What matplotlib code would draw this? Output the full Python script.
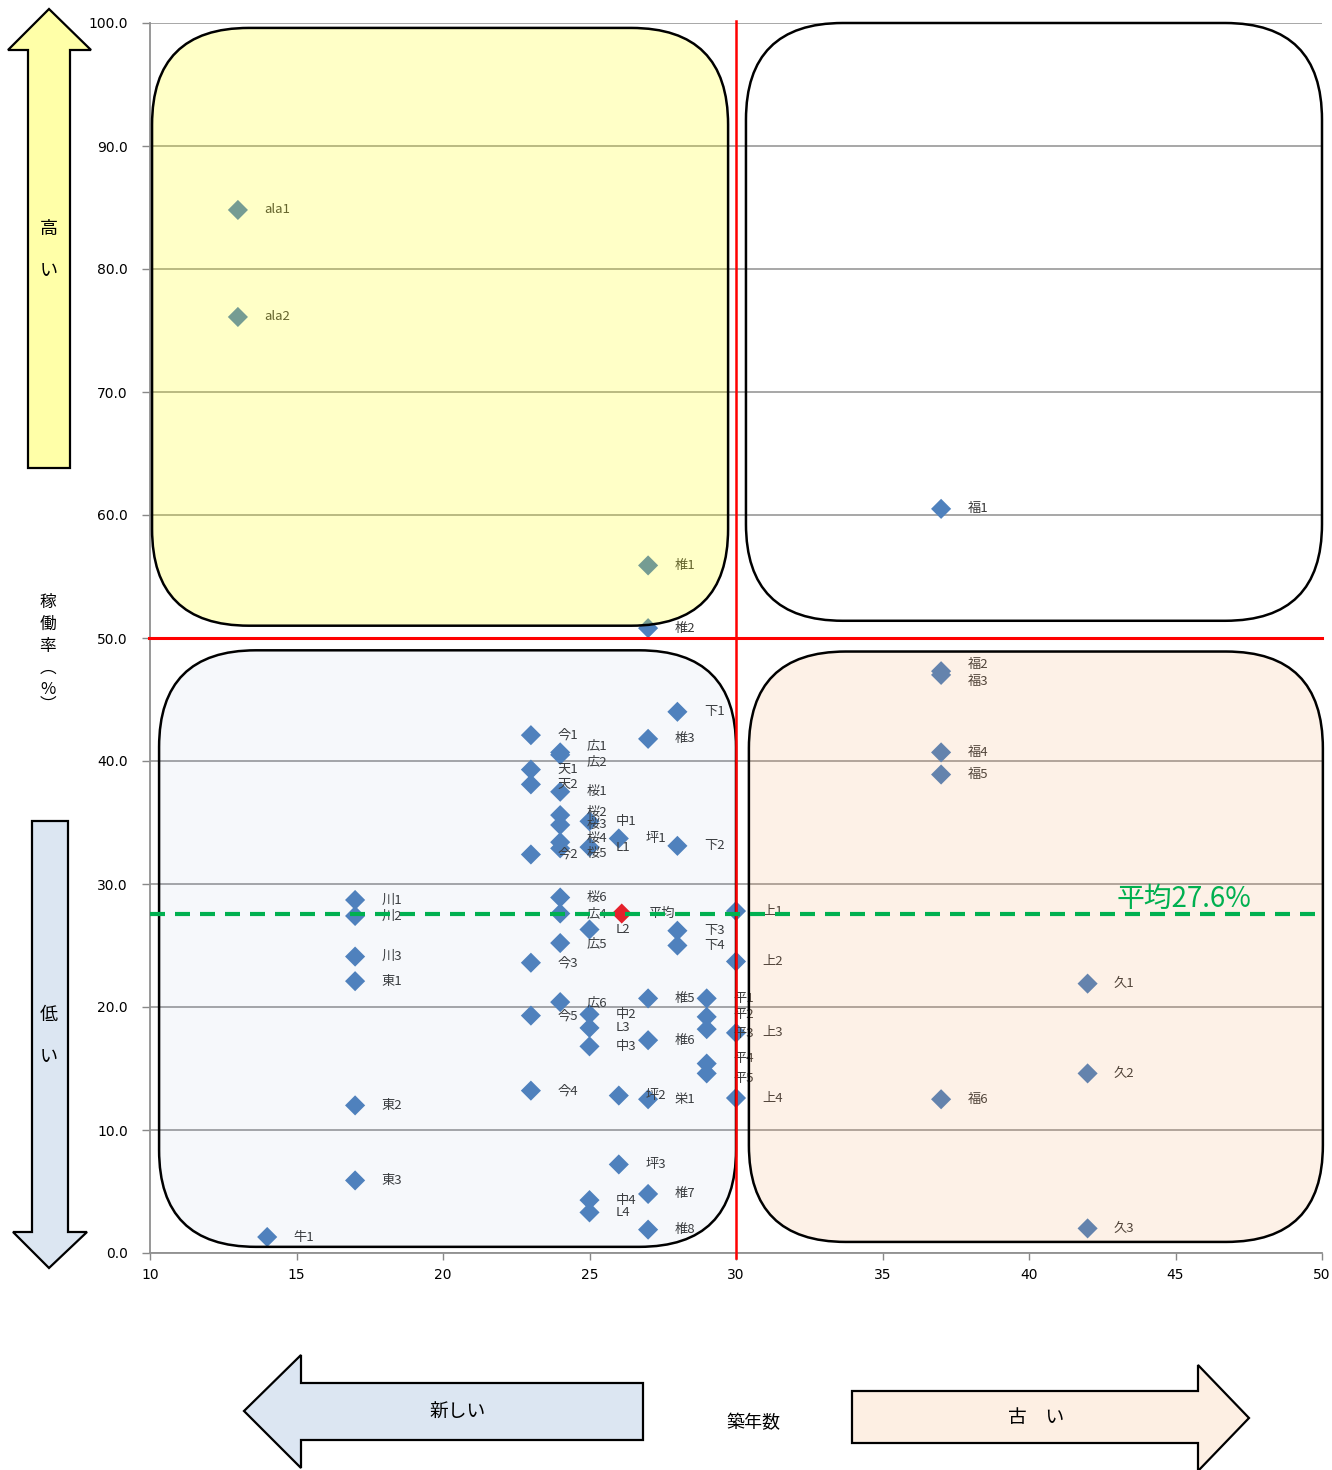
import matplotlib
matplotlib.use('Agg')
import matplotlib.pyplot as plt
from matplotlib.colors import to_rgba
from matplotlib.patches import FancyBboxPatch, Polygon

plt.rcParams['font.family'] = ['Noto Sans CJK JP', 'DejaVu Sans']

# 施設名, 築年数, 稼働率(%)
names = ['ala1', 'ala2', '椎1', '椎2', '福1', '福2', '福3', '福4', '福5', '福6',
         '久1', '久2', '久3', '牛1', '川1', '川2', '川3', '東1', '東2', '東3',
         '今1', '天1', '天2', '今2', '今3', '今5', '今4',
         '広1', '広2', '桜1', '桜2', '桜3', '桜4', '桜5', '桜6', '広4', '広5', '広6',
         '中1', 'L1', 'L2', '中2', 'L3', '中3', '中4', 'L4',
         '坪1', '坪2', '坪3', '椎3', '椎5', '椎6', '栄1', '椎7', '椎8',
         '下1', '下2', '下3', '下4', '平1', '平2', '平3', '平4', '平5',
         '上1', '上2', '上3', '上4']
age = [13, 13, 27, 27, 37, 37, 37, 37, 37, 37,
       42, 42, 42, 14, 17, 17, 17, 17, 17, 17,
       23, 23, 23, 23, 23, 23, 23,
       24, 24, 24, 24, 24, 24, 24, 24, 24, 24, 24,
       25, 25, 25, 25, 25, 25, 25, 25,
       26, 26, 26, 27, 27, 27, 27, 27, 27,
       28, 28, 28, 28, 29, 29, 29, 29, 29,
       30, 30, 30, 30]
rate = [84.8, 76.1, 55.9, 50.8, 60.5, 47.3, 47.0, 40.7, 38.9, 12.5,
        21.9, 14.6, 2.0, 1.3, 28.7, 27.4, 24.1, 22.1, 12.0, 5.9,
        42.1, 39.3, 38.1, 32.4, 23.6, 19.3, 13.2,
        40.7, 40.5, 37.5, 35.6, 34.8, 33.4, 32.9, 28.9, 27.6, 25.2, 20.4,
        35.1, 33.0, 26.3, 19.4, 18.3, 16.8, 4.3, 3.3,
        33.7, 12.8, 7.2, 41.8, 20.7, 17.3, 12.5, 4.8, 1.9,
        44.0, 33.1, 26.2, 25.0, 20.7, 19.2, 18.2, 15.4, 14.6,
        27.8, 23.7, 17.9, 12.6]

avg_name = '平均'
avg_age = 26.1
avg_rate = 27.6

x_split = 30
y_split = 50

# 重なるラベルの上下ずらし(pt)
label_dy = {'福2': 5, '福3': -5, '広1': 5, '広2': -5, '桜2': 2, '桜4': 3, '桜5': -4,
            '平2': 2, '平3': -3, '平4': 4, '平5': -4}

W, H = 1332, 1470
fig = plt.figure(figsize=(W / 100, H / 100), dpi=100)
fig.patch.set_facecolor('white')

ax = fig.add_axes([150 / W, 1 - 1253 / H, (1322 - 150) / W, (1253 - 23) / H])
ax.set_xlim(10, 50)
ax.set_ylim(0, 100)
ax.set_xticks(range(10, 51, 5))
ax.set_yticks(range(0, 101, 10))
ax.set_yticklabels([f'{v:.1f}' for v in range(0, 101, 10)])
for lbl in ax.get_xticklabels() + ax.get_yticklabels():
    lbl.set_family('DejaVu Sans')
ax.tick_params(axis='y', length=6, width=1, color='#888888', labelsize=10, pad=10)
ax.tick_params(axis='x', length=5, width=1, color='#888888', labelsize=10, pad=6)
ax.grid(axis='y', color='#a0a0a0', lw=1.3, zorder=0)
ax.set_axisbelow(True)
for s in ['top', 'right']:
    ax.spines[s].set_visible(False)
for s in ['left', 'bottom']:
    ax.spines[s].set_color('#909090')
    ax.spines[s].set_linewidth(1.3)

# 点とラベル
ax.scatter(age, rate, marker='D', s=105, color='#4F81BD', edgecolors='none', zorder=3)
for n, x, y in zip(names, age, rate):
    ax.annotate(n, (x, y), xytext=(19, label_dy.get(n, 0)), textcoords='offset points',
                va='center', ha='left', fontsize=9.5, color='#3a3a3a', zorder=3)
ax.scatter([avg_age], [avg_rate], marker='D', s=105, color='#EE1C25', edgecolors='none', zorder=3)
ax.annotate(avg_name, (avg_age, avg_rate), xytext=(19, 0), textcoords='offset points',
            va='center', ha='left', fontsize=9.5, color='#3a3a3a', zorder=3)

# 4象限の角丸枠
asp = 29.3 / 12.3
def quad_box(x0, y0, x1, y1, face):
    p = FancyBboxPatch((x0, y0), x1 - x0, y1 - y0,
                       boxstyle='round,pad=0,rounding_size=3.3', mutation_aspect=asp,
                       facecolor=face, edgecolor='black', lw=1.8, zorder=4, clip_on=False)
    ax.add_patch(p)

quad_box(10.07, 51.0, 29.73, 99.6, to_rgba('#FFFF00', 0.22))
quad_box(30.34, 51.4, 50.0, 100.0, 'none')
quad_box(10.31, 0.5, 30.0, 49.0, to_rgba('#4F81BD', 0.05))
quad_box(30.44, 0.9, 50.03, 48.9, to_rgba('#F79646', 0.13))

# 区切り線と平均線
ax.plot([x_split, x_split], [-0.4, 100.2], color='red', lw=1.8, zorder=6, clip_on=False)
ax.plot([9.95, 50], [y_split, y_split], color='red', lw=2.2, zorder=6, clip_on=False)
ax.axhline(avg_rate, color='#00B050', lw=3, ls=(0, (3.6, 2.4)), zorder=6)
ax.text(43.0, avg_rate + 1.2, f'平均{avg_rate}%', color='#00B050', fontsize=20,
        ha='left', va='center', zorder=7)

# 軸の外側の矢印と見出し
ov = fig.add_axes([0, 0, 1, 1], zorder=-1)
ov.set_xlim(0, W)
ov.set_ylim(H, 0)
ov.axis('off')

arrows = [
    ([(28, 468), (70, 468), (70, 50), (91, 50), (49, 9), (8, 50), (28, 50)], '#FFFFA8'),
    ([(32, 821), (68, 821), (68, 1232), (87, 1232), (49, 1268), (13, 1232), (32, 1232)], '#DCE6F2'),
    ([(643, 1383), (643, 1440), (301, 1440), (301, 1468), (244, 1411), (301, 1355), (301, 1383)], '#DCE6F2'),
    ([(852, 1391), (852, 1443), (1198, 1443), (1198, 1471), (1249, 1418), (1198, 1365), (1198, 1391)], '#FDEFE3'),
]
for pts, fc in arrows:
    ov.add_patch(Polygon(pts, closed=True, facecolor=fc, edgecolor='black', lw=1.6))

for t, x, y in [('高', 49, 229), ('い', 49, 271), ('低', 49, 1015), ('い', 49, 1057)]:
    ov.text(x, y, t, ha='center', va='center', fontsize=13)
for t, y in [('稼', 602), ('働', 624), ('率', 646), ('︵', 668), ('%', 689), ('︶', 705)]:
    ov.text(48, y, t, ha='center', va='center', fontsize=12)
ov.text(458, 1412, '新しい', ha='center', va='center', fontsize=13.5)
ov.text(1036, 1418, '古　い', ha='center', va='center', fontsize=13.5)
ov.text(753, 1423, '築年数', ha='center', va='center', fontsize=13)

fig.savefig('out.png', dpi=100)
